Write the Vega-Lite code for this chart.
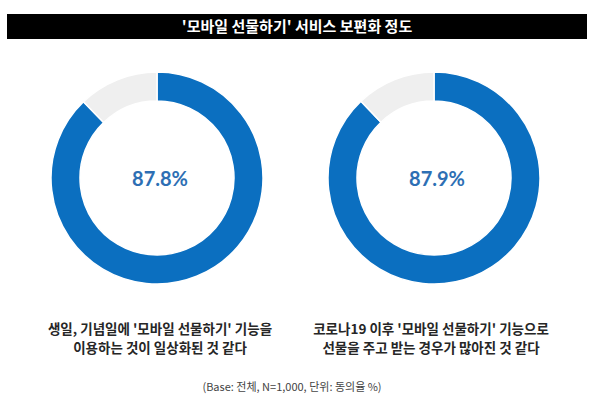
{
  "$schema": "https://vega.github.io/schema/vega-lite/v6.json",
  "width": 600,
  "height": 408,
  "autosize": {"type": "fit", "contains": "padding"},
  "padding": {"left": 7, "right": 13, "top": 0, "bottom": 0},
  "background": "white",
  "config": {"view": {"stroke": null}},
  "datasets": {
    "arcs": [
      {"item": "A", "seg": "agree", "start": 0, "end": 87.8},
      {"item": "A", "seg": "other", "start": 87.8, "end": 100},
      {"item": "B", "seg": "agree", "start": 0, "end": 87.9},
      {"item": "B", "seg": "other", "start": 87.9, "end": 100}
    ],
    "summary": [
      {"item": "A", "value": "87.8%", "label": "생일, 기념일에 '모바일 선물하기' 기능을\n이용하는 것이 일상화된 것 같다"},
      {"item": "B", "value": "87.9%", "label": "코로나19 이후 '모바일 선물하기' 기능으로\n선물을 주고 받는 경우가 많아진 것 같다"}
    ],
    "meta": [
      {"title": "'모바일 선물하기' 서비스 보편화 정도", "note": "(Base: 전체, N=1,000, 단위: 동의율 %)"}
    ]
  },
  "resolve": {"scale": {"x": "independent"}},
  "layer": [
    {
      "data": {"name": "meta"},
      "mark": {"type": "rect", "color": "#000000", "height": 25},
      "encoding": {
        "y": {"datum": "title", "type": "nominal", "axis": null,
              "scale": {"type": "point", "domain": ["title", "donut", "label"], "range": [26.5, 329.5], "padding": 0}}
      }
    },
    {
      "data": {"name": "meta"},
      "mark": {"type": "text", "color": "#ffffff", "font": "Noto Sans CJK KR", "fontWeight": "bold", "fontSize": 15, "baseline": "middle"},
      "encoding": {
        "y": {"datum": "title", "type": "nominal", "axis": null},
        "text": {"field": "title", "type": "nominal"}
      }
    },
    {
      "data": {"name": "arcs"},
      "mark": {"type": "arc", "radius": 106, "innerRadius": 77, "stroke": "#ffffff", "strokeWidth": 1.5},
      "encoding": {
        "x": {"field": "item", "type": "nominal", "axis": null, "scale": {"type": "point", "range": [150, 427], "padding": 0}},
        "y": {"datum": "donut", "type": "nominal", "axis": null},
        "theta": {"field": "start", "type": "quantitative", "stack": null, "scale": {"domain": [0, 100], "range": [0, 6.283185307]}},
        "theta2": {"field": "end"},
        "color": {"field": "seg", "type": "nominal", "legend": null, "scale": {"domain": ["agree", "other"], "range": ["#0b6fc0", "#efefef"]}}
      }
    },
    {
      "data": {"name": "summary"},
      "mark": {"type": "text", "font": "Lato", "fontWeight": "bold", "fontSize": 20, "color": "#2d6fb4", "baseline": "middle", "dy": 2, "dx": 3},
      "encoding": {
        "x": {"field": "item", "type": "nominal", "axis": null, "scale": {"type": "point", "range": [150, 427], "padding": 0}},
        "y": {"datum": "donut", "type": "nominal", "axis": null},
        "text": {"field": "value", "type": "nominal"}
      }
    },
    {
      "data": {"name": "summary"},
      "mark": {"type": "text", "font": "Noto Sans CJK KR", "fontWeight": "bold", "fontSize": 13.5, "lineHeight": 19.7, "lineBreak": "\n", "color": "#262626", "baseline": "middle"},
      "encoding": {
        "x": {"field": "item", "type": "nominal", "axis": null, "scale": {"type": "point", "range": [153, 424], "padding": 0}},
        "y": {"datum": "label", "type": "nominal", "axis": null},
        "text": {"field": "label", "type": "nominal"}
      }
    },
    {
      "data": {"name": "meta"},
      "mark": {"type": "text", "font": "Noto Sans CJK KR", "fontSize": 11, "color": "#444444", "baseline": "middle", "dy": 58.5, "dx": -5},
      "encoding": {
        "y": {"datum": "label", "type": "nominal", "axis": null},
        "text": {"field": "note", "type": "nominal"}
      }
    }
  ]
}
